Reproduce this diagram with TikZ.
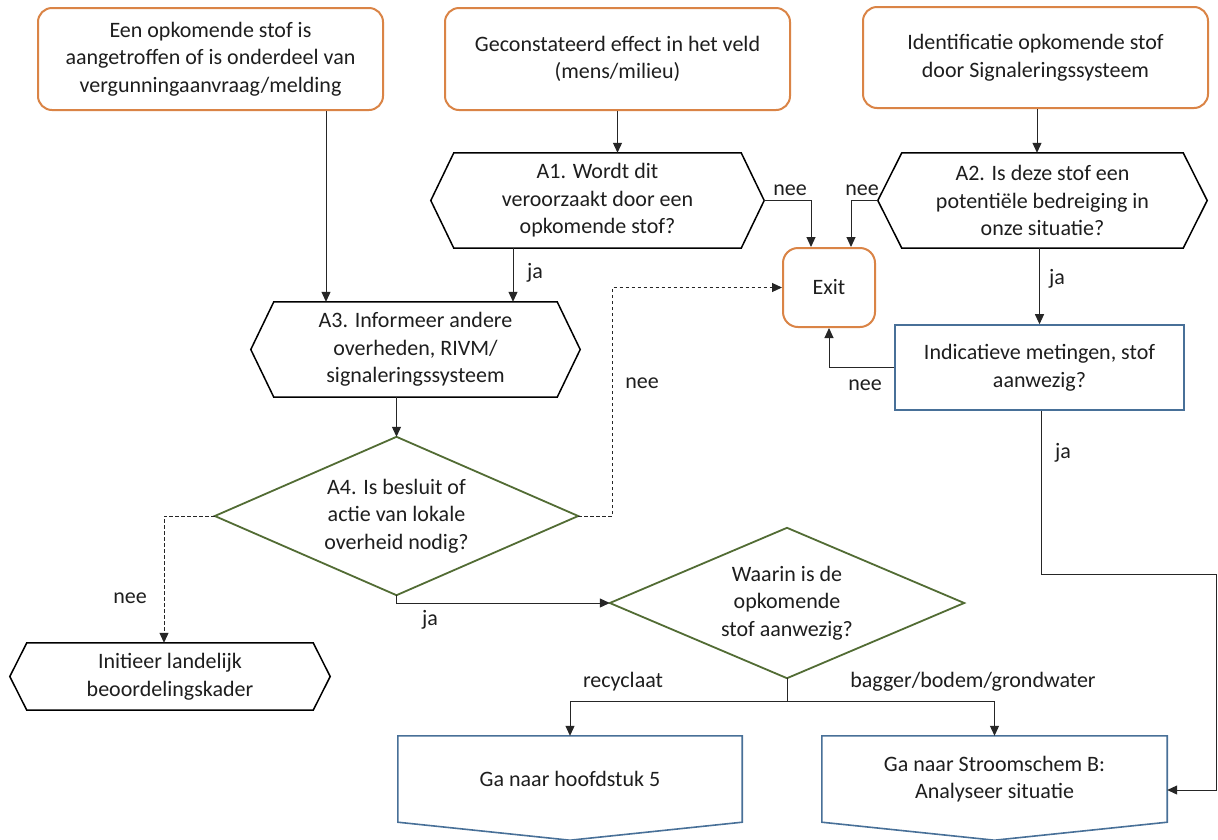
\documentclass[tikz,border=0pt]{standalone}
\usepackage{fontspec}
\setmainfont{Carlito}
\usetikzlibrary{arrows.meta,calc}
\definecolor{startorange}{RGB}{218,132,70}
\definecolor{stepblue}{RGB}{72,112,152}
\definecolor{decgreen}{RGB}{82,108,52}
\definecolor{inkgrey}{RGB}{30,30,30}
\newcommand\hexoutline[2]{%
  \draw[hexline] (#1.west) -- ($(#1.north west)+(#2,0)$) -- ($(#1.north east)+(-#2,0)$)
    -- (#1.east) -- ($(#1.south east)+(-#2,0)$) -- ($(#1.south west)+(#2,0)$) -- cycle;}
\newcommand\diaoutline[1]{%
  \draw[dialine] (#1.west) -- (#1.north) -- (#1.east) -- (#1.south) -- cycle;}
\newcommand\pageoutline[1]{%
  \draw[pageline] (#1.south west) -- (#1.north west) -- (#1.north east)
    -- (#1.south east) -- ($(#1.south)+(0,18)$) -- cycle;}
\begin{document}
\begin{tikzpicture}[x=1pt,y=-1pt,
  font=\fontsize{22}{27.5}\selectfont, text=inkgrey,
  startbox/.style={draw=startorange, line width=2pt, rounded corners=14pt,
    fill=white, align=center, inner sep=0pt},
  shapebox/.style={draw=none, align=center, inner sep=0pt},
  blockbox/.style={draw=stepblue, line width=1.6pt, align=center, inner sep=0pt},
  hexline/.style={draw=black, line width=1.5pt, line join=miter},
  dialine/.style={draw=decgreen, line width=1.8pt, line join=miter},
  pageline/.style={draw=stepblue, line width=1.6pt, line join=miter},
  conn/.style={draw=black!85, line width=1pt, -{Triangle[length=10pt,width=9pt]}},
  dashconn/.style={conn, dash pattern=on 3.5pt off 2.5pt},
  lbl/.style={inner sep=0pt}]
\useasboundingbox (0,0) rectangle (1218,839);
\clip (0,0) rectangle (1218,839);
\fill[white] (0,0) rectangle (1218,839);

% start events
\node[startbox, minimum width=345pt, minimum height=102pt] (s1) at (210.5,59)
  {Een opkomende stof is\\aangetroffen of is onderdeel van\\vergunningaanvraag/melding};
\node[startbox, minimum width=345pt, minimum height=102pt] (s2) at (617.5,59)
  {Geconstateerd effect in het veld\\(mens/milieu)};
\node[startbox, minimum width=345pt, minimum height=101pt] (s3) at (1035.5,57.5)
  {Identificatie opkomende stof\\door Signaleringssysteem};

% preparation steps (hexagons)
\node[shapebox, minimum width=333pt, minimum height=95pt] (a1) at (597.5,200.5)
  {A1. Wordt dit\\veroorzaakt door een\\opkomende stof?};
\node[shapebox, minimum width=329pt, minimum height=95pt] (a2) at (1042.5,200.5)
  {A2. Is deze stof een\\potentiële bedreiging in\\onze situatie?};
\node[shapebox, minimum width=329pt, minimum height=95pt] (a3) at (415.5,349.5)
  {A3. Informeer andere\\overheden, RIVM/\\signaleringssysteem};
\node[shapebox, minimum width=320pt, minimum height=67pt] (ini) at (170,676.5)
  {Initieer landelijk\\beoordelingskader};
\hexoutline{a1}{23}
\hexoutline{a2}{24}
\hexoutline{a3}{23}
\hexoutline{ini}{17}

% exit and measurement
\node[startbox, rounded corners=15pt, minimum width=92pt, minimum height=79pt] (exit) at (829,287.5) {Exit};
\node[blockbox, minimum width=289pt, minimum height=85pt] (ind) at (1039.5,367.5)
  {Indicatieve metingen, stof\\aanwezig?};

% decisions
\node[shapebox, minimum width=363pt, minimum height=158pt] (a4) at (396.5,516)
  {A4. Is besluit of\\actie van lokale\\overheid nodig?};
\node[shapebox, minimum width=354pt, minimum height=150pt] (waar) at (787,603)
  {Waarin is de\\opkomende\\stof aanwezig?};
\diaoutline{a4}
\diaoutline{waar}

% off-page references
\node[shapebox, minimum width=344pt, minimum height=86pt] (g5) at (570,779) {Ga naar hoofdstuk 5};
\node[shapebox, minimum width=345pt, minimum height=86pt] (gb) at (994.5,779)
  {Ga naar Stroomschem B:\\Analyseer situatie};
\pageoutline{g5}
\pageoutline{gb}

% connectors
\draw[conn] ([xshift=115.5pt]s1.south) -- ([xshift=115.5pt]s1.south |- a3.north);
\draw[conn] (s2.south) -- (s2.south |- a1.north);
\draw[conn] ([xshift=1.5pt]s3.south) -- ([xshift=1.5pt]s3.south |- a2.north);
\draw[conn] ([xshift=97.5pt]a3.north |- a1.south) -- ([xshift=97.5pt]a3.north);
\draw[conn] (a1.east) -| ([xshift=-18pt]exit.north);
\draw[conn] (a2.west) -| ([xshift=22pt]exit.north);
\draw[conn] (ind.north |- a2.south) -- (ind.north);
\draw[conn] (ind.west) -| (exit.south);
\draw[conn] (a4.north |- a3.south) -- (a4.north);
\draw[dashconn] (a4.east) -- ++(34,0) |- (exit.west);
\draw[dashconn] (a4.west) -| ([xshift=-6pt]ini.north);
\draw[conn] (a4.south) |- (waar.west);
\coordinate (split) at ($(waar.south)+(0,23)$);
\draw[conn] (waar.south) -- (split) -| (g5.north);
\draw[conn] (split) -| (gb.north);
\coordinate (edge) at (1216.5,574);
\draw[conn] ([xshift=1.5pt]ind.south) |- (edge) |- ([yshift=-11pt]gb.east);

% connector labels
\node[lbl] (l1) at (535,273) {ja};
\node[lbl] (l2) at (790,190) {nee};
\node[lbl] (l3) at (862,190) {nee};
\node[lbl] (l4) at (1057,279) {ja};
\node[lbl] (l5) at (865,385) {nee};
\node[lbl] (l6) at (642,383) {nee};
\node[lbl] (l7) at (1063,453) {ja};
\node[lbl] (l8) at (130,598) {nee};
\node[lbl] (l9) at (430,620) {ja};
\node[lbl] (l10) at (623,682) {recyclaat};
\node[lbl] (l11) at (973,682) {bagger/bodem/grondwater};
\end{tikzpicture}
\end{document}
